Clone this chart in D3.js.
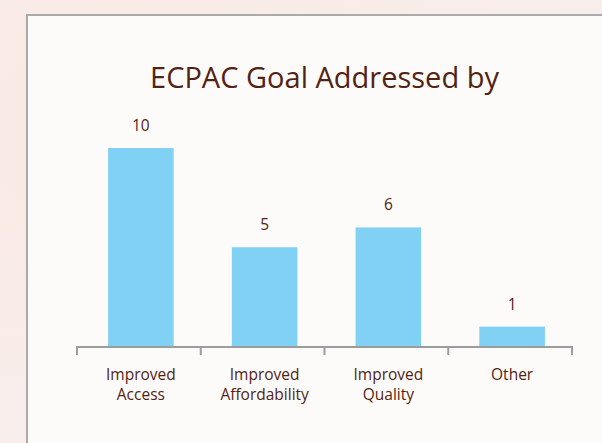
<!DOCTYPE html>
<html>
<head>
<meta charset="utf-8">
<script src="https://cdn.jsdelivr.net/npm/d3@7"></script>
<style>
  body { margin: 0; background: #fbeee9; }
  svg { display: block; }
</style>
</head>
<body>
<svg class="chart-svg" width="602" height="443"></svg>
<script>
// Chart values
var categories = ["Improved Access", "Improved Affordability", "Improved Quality", "Other"];
var tickLines = [["Improved", "Access"], ["Improved", "Affordability"], ["Improved", "Quality"], ["Other"]];
var counts = [10, 5, 6, 1];
var title = "ECPAC Goal Addressed by";

var svg = d3.select(".chart-svg");
var textColor = "#522313";
var font = "'Open Sans', sans-serif";

// Page background with a soft glow
var defs = svg.append("defs");
var grad = defs.append("radialGradient").attr("id", "bg").attr("cx", "20%").attr("cy", "30%").attr("r", "90%");
grad.append("stop").attr("offset", "0%").attr("stop-color", "#fbe9e4");
grad.append("stop").attr("offset", "100%").attr("stop-color", "#f6eeec");
svg.append("rect").attr("width", 602).attr("height", 443).attr("fill", "url(#bg)");

// White panel
svg.append("rect")
    .attr("x", 27).attr("y", 15)
    .attr("width", 602).attr("height", 443)
    .attr("fill", "#fdfbfa")
    .attr("stroke", "#aaaaaa")
    .attr("stroke-width", 2);

var margin = {left: 77, right: 30, top: 148, bottom: 97};
var width = 602 - margin.left - margin.right;
var height = 443 - margin.top - margin.bottom;

var x = d3.scaleBand().domain(categories).range([0, width]).paddingInner(0.47).paddingOuter(0.235);
var y = d3.scaleLinear().domain([0, 10]).range([height + 0.5, 0]);

var g = svg.append("g").attr("transform", "translate(" + margin.left + "," + margin.top + ")");

// Title
svg.append("text")
    .attr("x", margin.left + width / 2)
    .attr("y", 88)
    .attr("text-anchor", "middle")
    .attr("fill", textColor)
    .style("font-family", font)
    .style("font-size", "29px")
    .text(title);

// Bars
g.selectAll(".bar")
    .data(counts)
    .enter()
    .append("rect")
    .attr("class", "bar")
    .attr("x", function(d, i) { return x(categories[i]) + 2; })
    .attr("y", function(d) { return y(d); })
    .attr("width", x.bandwidth())
    .attr("height", function(d) { return y(0) - y(d); })
    .attr("fill", "#81d1f5");

// Value labels
g.selectAll(".val")
    .data(counts)
    .enter()
    .append("text")
    .attr("class", "val")
    .attr("x", function(d, i) { return x(categories[i]) + 2 + x.bandwidth() / 2; })
    .attr("y", function(d) { return y(d) - 17; })
    .attr("text-anchor", "middle")
    .attr("fill", textColor)
    .style("font-family", font)
    .style("font-size", "15.5px")
    .text(function(d) { return d; });

// X axis: line plus ticks on band edges
var axis = g.append("g").attr("transform", "translate(0," + (height + 1) + ")");
var edges = [0].concat(categories.map(function(c) { return x(c) + x.bandwidth() + x.step() * x.paddingInner() / 2; }));
edges[edges.length - 1] = width;
axis.append("line")
    .attr("x1", 0).attr("x2", width)
    .attr("stroke", "#9d9d9d").attr("stroke-width", 2);
axis.selectAll(".tick")
    .data(edges)
    .enter()
    .append("line")
    .attr("x1", function(d) { return d; })
    .attr("x2", function(d) { return d; })
    .attr("y1", -1).attr("y2", 8)
    .attr("stroke", "#9d9d9d").attr("stroke-width", 2);

// Category labels
var labels = axis.selectAll(".lab")
    .data(categories)
    .enter()
    .append("text")
    .attr("class", "lab")
    .attr("text-anchor", "middle")
    .attr("fill", textColor)
    .style("font-family", font)
    .style("font-size", "15.5px");
labels.each(function(d, i) {
    var cx = x(d) + 2 + x.bandwidth() / 2;
    d3.select(this).selectAll("tspan")
        .data(tickLines[i])
        .enter()
        .append("tspan")
        .attr("x", cx)
        .attr("y", function(t, j) { return 33 + j * 20; })
        .text(function(t) { return t; });
});
</script>
</body>
</html>
